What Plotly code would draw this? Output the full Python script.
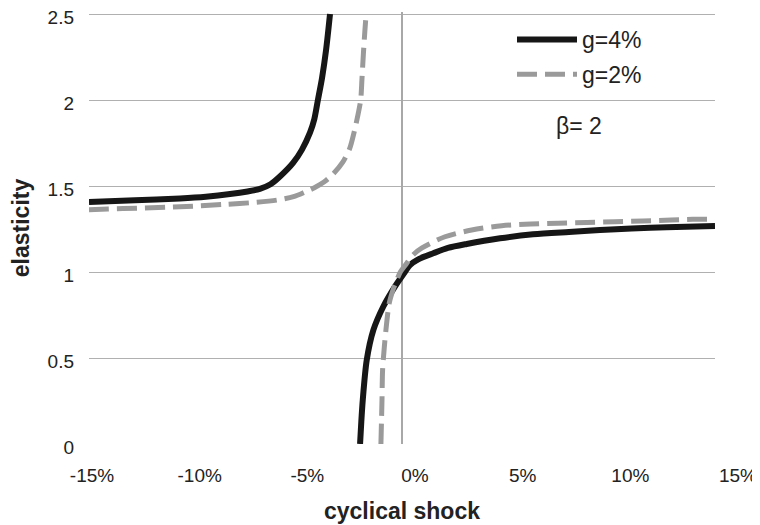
import plotly.graph_objects as go

# g = 4% (solid black): branch left of the asymptote, branch right of it
g4_left_x = [-15.0, -12.8, -10.64, -9.4, -8.24, -7.4, -6.81, -6.3, -5.85, -5.22, -4.8, -4.41, -4.2, -4.03, -3.83, -3.64, -3.45]
g4_left_y = [1.407, 1.417, 1.428, 1.438, 1.453, 1.468, 1.483, 1.51, 1.555, 1.634, 1.71, 1.81, 1.89, 2.0, 2.13, 2.29, 2.5]
g4_right_x = [-2.01, -1.95, -1.88, -1.69, -1.37, -0.90, -0.34, 0.14, 0.38, 0.8, 1.5, 2.2, 3.1, 4.7, 6.28, 8.0, 9.49, 11.0, 12.68, 15.0]
g4_right_y = [0.0, 0.13, 0.256, 0.488, 0.663, 0.798, 0.915, 1.0, 1.04, 1.075, 1.109, 1.14, 1.163, 1.196, 1.219, 1.233, 1.244, 1.253, 1.26, 1.267]

# g = 2% (dashed grey)
g2_left_x = [-15.0, -14.1, -12.7, -11.3, -10.0, -8.5, -7.0, -6.0, -5.2, -4.65, -4.2, -3.74, -3.3, -2.83, -2.5, -2.3, -2.1, -1.98, -1.92, -1.85, -1.78, -1.72]
g2_left_y = [1.362, 1.366, 1.371, 1.376, 1.383, 1.393, 1.405, 1.418, 1.438, 1.465, 1.49, 1.523, 1.57, 1.64, 1.72, 1.81, 1.92, 2.0, 2.12, 2.27, 2.40, 2.5]
g2_right_x = [-1.01, -0.96, -0.93, -0.85, -0.77, -0.61, -0.42, -0.25, -0.08, 0.22, 0.53, 0.96, 2.06, 3.34, 4.78, 6.17, 7.48, 8.86, 10.2, 11.55, 12.9, 13.94, 15.0]
g2_right_y = [0.0, 0.25, 0.43, 0.56, 0.663, 0.82, 0.90, 0.953, 1.0, 1.05, 1.10, 1.14, 1.205, 1.244, 1.269, 1.279, 1.284, 1.288, 1.292, 1.297, 1.302, 1.306, 1.308]

x_ticks = [-15, -10, -5, 0, 5, 10, 15]
x_ticktext = ["-15%", "-10%", "-5%", "0%", "5%", "10%", "15%"]
y_ticks = [0, 0.5, 1, 1.5, 2, 2.5]
y_ticktext = ["0", "0.5", "1", "1.5", "2", "2.5"]

FONT = "Arial, Liberation Sans, Helvetica, sans-serif"

# the html page puts the figure 8px in from the top-left corner of the window,
# so everything below is laid out in window pixels and shifted by that amount
OFF = 8
W, H = 760 - OFF, 525 - OFF
plot_l, plot_t, plot_b = 89, 12, 444        # window px
top_grid = 14                               # where the 2.5 gridline sits (window px)
paper_r = 750
ML, MT = plot_l - OFF, plot_t - OFF
MR = W - (paper_r - OFF)
MB = H - (plot_b - OFF)
plot_w = paper_r - plot_l
plot_h = plot_b - plot_t
grid_right = 715                     # right end of the gridlines (window px)
label_first, label_last = 92, 738    # where the -15% and 15% labels sit (window px)

# a couple of px of headroom above the last gridline so plotly keeps it
y_top = y_ticks[-1] * plot_h / (plot_b - top_grid)

# tick labels sit on a slightly wider scale than the data (as in the original)
px_per_unit = (label_last - label_first) / (x_ticks[-1] - x_ticks[0])
x2_lo = x_ticks[0] - (label_first - plot_l) / px_per_unit
x2_hi = x2_lo + plot_w / px_per_unit

fig = go.Figure()
fig.add_trace(
    go.Scatter(
        x=g4_left_x + [None] + g4_right_x,
        y=g4_left_y + [None] + g4_right_y,
        mode="lines",
        name="g=4%",
        legendgroup="a",
        line=dict(color="#161616", width=6, shape="spline", smoothing=0.8),
        connectgaps=False,
    )
)
fig.add_trace(
    go.Scatter(
        x=g2_left_x + [None] + g2_right_x,
        y=g2_left_y + [None] + g2_right_y,
        mode="lines",
        name="g=2%",
        legendgroup="b",
        line=dict(color="#9a9a9a", width=5, dash="20px,8px", shape="spline", smoothing=0.8),
        connectgaps=False,
    )
)
# carrier for the tick-label axis (no visible points)
fig.add_trace(
    go.Scatter(
        x=[x_ticks[0], x_ticks[-1]], y=[None, None],
        xaxis="x2", yaxis="y2", mode="lines",
        showlegend=False, hoverinfo="skip",
    )
)

fig.add_annotation(
    text="β= 2", x=(579 - plot_l) / plot_w, y=(plot_b - 126) / plot_h,
    xref="paper", yref="paper", xanchor="center", yanchor="middle", showarrow=False,
    font=dict(family=FONT, size=23, color="#222"),
)

fig.update_layout(
    template="none",
    width=W,
    height=H,
    margin=dict(l=ML, r=MR, t=MT, b=MB),
    paper_bgcolor="white",
    plot_bgcolor="rgba(0,0,0,0)",
    font=dict(family=FONT, color="#222"),
    legend=dict(
        x=(512 - plot_l) / plot_w, y=(plot_b - 18) / plot_h, xanchor="left", yanchor="top",
        font=dict(family=FONT, size=23, color="#222"),
        bgcolor="rgba(0,0,0,0)", tracegroupgap=2, itemwidth=60,
    ),
    xaxis=dict(
        domain=[0, (grid_right - plot_l) / plot_w],
        range=[-15, 15],
        automargin=False,
        showgrid=False,
        showticklabels=False,
        ticks="",
        zeroline=True, zerolinecolor="#a8a8a8", zerolinewidth=1.5,
        title=dict(text="cyclical shock", standoff=58,
                   font=dict(family=FONT, size=23, color="#222", weight="bold")),
    ),
    yaxis=dict(
        range=[0, y_top],
        automargin=False,
        tickvals=y_ticks, ticktext=y_ticktext,
        tickfont=dict(family=FONT, size=19, color="#222"),
        ticks="",
        ticklabelstandoff=14,
        ticklabelshift=3,
        ticklabeloverflow="allow",
        showgrid=True, gridcolor="#b0b0b0", gridwidth=1,
        zeroline=False, showline=False,
        title=dict(text="elasticity", standoff=14,
                   font=dict(family=FONT, size=23, color="#222", weight="bold")),
    ),
    xaxis2=dict(
        domain=[0, 1], anchor="y2", range=[x2_lo, x2_hi],
        automargin=False,
        tickvals=x_ticks, ticktext=x_ticktext,
        tickfont=dict(family=FONT, size=19, color="#222"),
        ticks="",
        ticklabelstandoff=18,
        showgrid=False, zeroline=False, showline=False,
    ),
    yaxis2=dict(domain=[0, 1], anchor="x2", range=[0, y_top], automargin=False,
                showgrid=False, zeroline=False, showline=False,
                showticklabels=False, ticks=""),
    showlegend=True,
)

fig.write_html("out.html")
